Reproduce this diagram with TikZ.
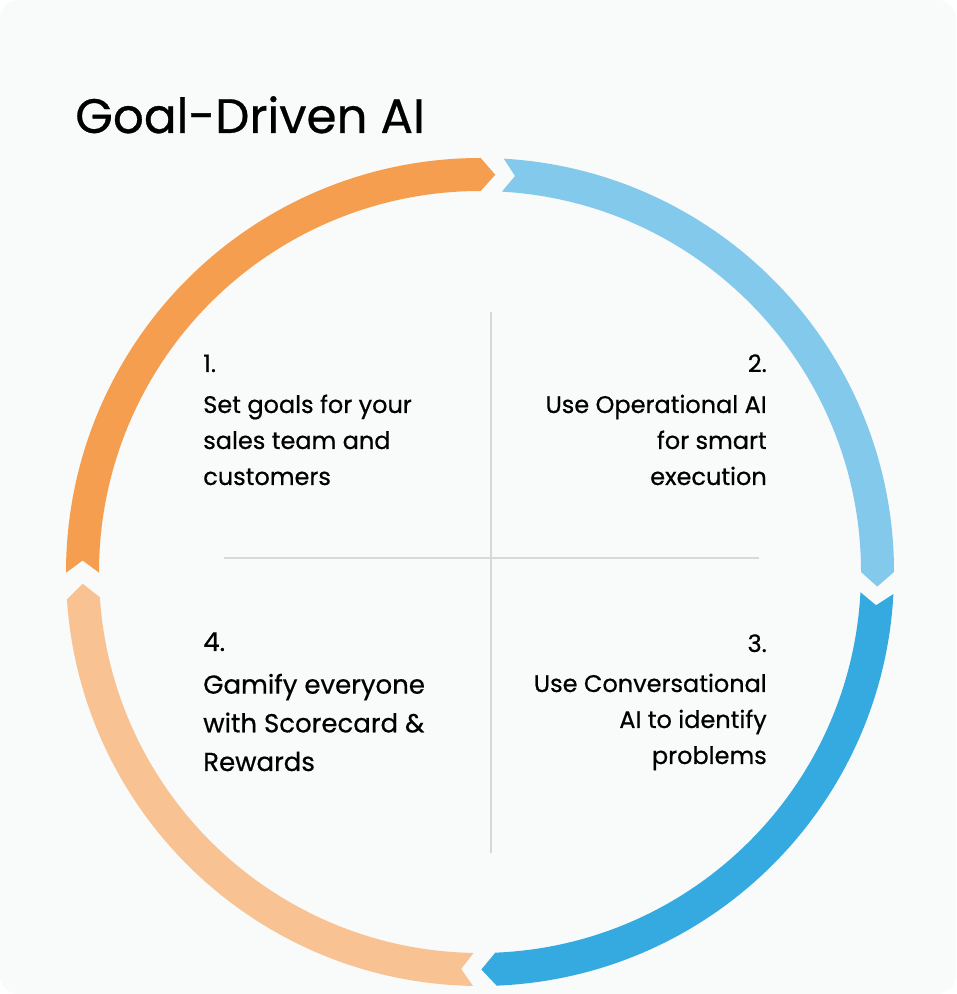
\documentclass[tikz,border=0pt]{standalone}
\usepackage{fontspec}
\setmainfont{Poppins}[FakeBold=0.6]
\definecolor{bgc}{HTML}{F9FAFA}
\definecolor{segA}{HTML}{F59E4F}
\definecolor{segB}{HTML}{83C9EC}
\definecolor{segC}{HTML}{35AAE0}
\definecolor{segD}{HTML}{F8C292}
\definecolor{divc}{HTML}{D6D8D9}
\newcommand{\ringseg}[3]{% colour, corner angle, shoulder angle
  \fill[#1] (#2:414) arc[start angle=#2, end angle=#3, radius=414]
    -- ({#3-2.1}:397.5) -- (#3:381)
    arc[start angle=#3, end angle=#2, radius=381]
    -- ({#2-1.75}:397.5) -- cycle;}
\begin{document}
\begin{tikzpicture}[x=0.75pt,y=0.75pt,
  qtext/.style={inner sep=0pt, font=\fontsize{18pt}{27pt}\selectfont},
  q4text/.style={inner sep=0pt, font=\fontsize{19.5pt}{29pt}\selectfont},
  divline/.style={draw=divc, line width=1.2pt}]
\useasboundingbox (0,0) rectangle (956,994);
\fill[white] (0,0) rectangle (956,994);
\fill[bgc, rounded corners=14pt] (0,0) rectangle (956,994);
% dividers
\coordinate (vt) at (491,682);
\coordinate (vb) at (491,141);
\coordinate (hl) at (224,436);
\coordinate (hr) at (759,436);
\draw[divline] (vt) -- (vb);
\draw[divline] (hl) -- (hr);
% ring
\begin{scope}[shift={(480,422)}]
  \ringseg{segA}{180.1}{89.9}
  \ringseg{segB}{86.7}{0.0}
  \ringseg{segC}{-3.05}{-87.7}
  \ringseg{segD}{-90.97}{-176.2}
\end{scope}
% title
\node[inner sep=0pt, anchor=base west, font=\fontsize{36.3pt}{40pt}\selectfont] (title) at (75,861) {Goal-Driven AI};
% quadrant texts
\node[qtext, anchor=base west] (q1) at (203,622) {\parbox[t]{300pt}{\raggedright 1.\\[3.75pt] Set goals for your\\ sales team and\\ customers}};
\node[qtext, anchor=base east] (q2) at (767,622) {\parbox[t]{300pt}{\raggedleft 2.\\[3.75pt] Use Operational AI\\ for smart\\ execution}};
\node[qtext, anchor=base east] (q3) at (767,342) {\parbox[t]{300pt}{\raggedleft 3.\\[3pt] Use Conversational\\ AI to identify\\ problems}};
\node[q4text, anchor=base west] (q4) at (203,343) {\parbox[t]{300pt}{\raggedright 4.\\[3pt] Gamify everyone\\ with Scorecard \&\\ Rewards}};
\end{tikzpicture}
\end{document}
